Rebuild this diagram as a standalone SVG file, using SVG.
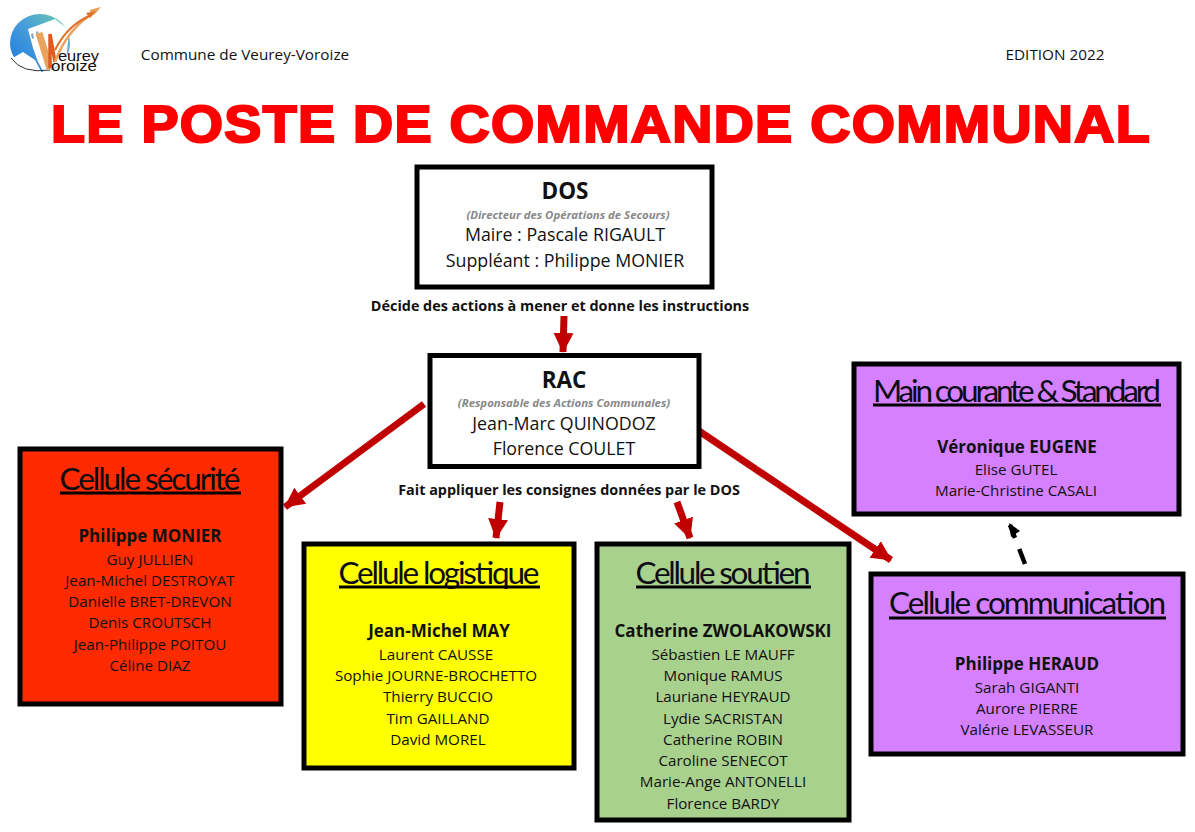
<svg xmlns="http://www.w3.org/2000/svg" width="1195" height="832" viewBox="0 0 1195 832">
<style>
text{font-family:"Open Sans","Noto Sans","DejaVu Sans",sans-serif;fill:#111;text-anchor:middle}
.box{stroke:#000;stroke-width:5}
.h{font-size:22.5px;font-weight:700}
.sub{font-size:11.4px;font-style:italic;font-weight:700;fill:#888}
.n{font-size:17.8px}
.cap{font-size:14.4px;font-weight:700}
.t{font-family:Lato,"Open Sans",sans-serif;font-size:31.5px;fill:#0c0c14}
.lead{font-size:17px;font-weight:700}
.m{font-size:15.2px}
.hd{font-size:15.3px}
.u{stroke:#000;stroke-width:3}
.red{fill:none;stroke:#c00000;stroke-width:7;marker-end:url(#ra)}
.lg{font-family:"Liberation Sans",sans-serif;font-size:15px;text-anchor:start}
</style>
<defs>
<marker id="ra" markerUnits="userSpaceOnUse" markerWidth="22" markerHeight="22" refX="19" refY="10" orient="auto"><path d="M0 0L20 10L0 20z" fill="#c00000"/></marker>
<linearGradient id="lg" x1="0" y1="1" x2="1" y2="0"><stop offset="0" stop-color="#1a78e0"/><stop offset=".55" stop-color="#4aa0d8"/><stop offset="1" stop-color="#70d0a8"/></linearGradient>
</defs>
<rect width="1195" height="832" fill="#fff"/>
<g id="logo">
<ellipse cx="40" cy="43" rx="30" ry="29" fill="url(#lg)"/>
<path d="M28 29L55 19L69 30L66 62L44 73L38 62L33 48z" fill="#fff"/>
<path d="M11 59L23 52L35 60L42 73L20 70z" fill="#fff"/>
<path d="M31 34l2-1 1 5-2 1zM36 32l2-1 1 5-2 1z" fill="#8aa8b8"/>
<path d="M11 58Q22 74 50 70" fill="none" stroke="#333" stroke-width="1"/>
<path d="M39 33L50 69" fill="none" stroke="#e8a35e" stroke-width="7"/>
<path d="M50 68L50 34L55 62" fill="none" stroke="#e25a20" stroke-width="3.500"/>
<path d="M55 62Q66 30 97 10" fill="none" stroke="#e8a35e" stroke-width="2.500"/>
<path d="M55 50Q68 24 92 15" fill="none" stroke="#e0702a" stroke-width="2"/>
<path d="M101 7L89 10L94 15z" fill="#e8a35e"/>
<path d="M96 11L86 13L90 18z" fill="#e0702a"/>
<text class="lg" x="58" y="61" textLength="41" lengthAdjust="spacingAndGlyphs">eurey</text>
<text class="lg" x="51" y="71" textLength="46" lengthAdjust="spacingAndGlyphs">oroize</text>
</g>
<g id="header">
<text class="hd" x="245" y="60">Commune de Veurey-Voroize</text>
<text class="hd" x="1055" y="60">EDITION 2022</text>
<text x="601" y="142" textLength="1100" lengthAdjust="spacingAndGlyphs" style="font-family:'Liberation Sans',sans-serif;font-size:51px;font-weight:700;letter-spacing:1.2px;fill:#f00;stroke:#f00;stroke-width:2.200">LE POSTE DE COMMANDE COMMUNAL</text>
</g>
<g id="connectors">
<path class="red" d="M564 316L563 352"/>
<path class="red" d="M424 404L285 507"/>
<path class="red" d="M500 502L496 538"/>
<path class="red" d="M677 502L690 538"/>
<path class="red" d="M699 431L891 560"/>
<path d="M1025 564L1010 525" fill="none" stroke="#000" stroke-width="4.500" stroke-dasharray="16 12"/>
<path d="M1009 523L1020 531L1011 537z" fill="#000"/>
<text class="cap" x="560" y="311">Décide des actions à mener et donne les instructions</text>
<text class="cap" x="569" y="495">Fait appliquer les consignes données par le DOS</text>
</g>
<g id="dos">
<rect class="box" x="417" y="167" width="295" height="120" fill="#fff"/>
<text class="h" x="565" y="199">DOS</text>
<text class="sub" x="568" y="219">(Directeur des Opérations de Secours)</text>
<text class="n" x="565" y="241">Maire : Pascale RIGAULT</text>
<text class="n" x="565" y="267">Suppléant : Philippe MONIER</text>
</g>
<g id="rac">
<rect class="box" x="430" y="355.500" width="269" height="111" fill="#fff"/>
<text class="h" x="564" y="388">RAC</text>
<text class="sub" x="564" y="407">(Responsable des Actions Communales)</text>
<text class="n" x="564" y="430">Jean-Marc QUINODOZ</text>
<text class="n" x="564" y="455">Florence COULET</text>
</g>
<g id="main-courante">
<rect class="box" x="854" y="364" width="325" height="150" fill="#d580ff"/>
<text class="t" x="1017" y="402" textLength="288">Main courante &amp; Standard</text>
<line class="u" x1="873" y1="405" x2="1161" y2="405"/>
<text class="lead" x="1017" y="453">Véronique EUGENE</text>
<text class="m" x="1016" y="475">Elise GUTEL</text>
<text class="m" x="1016" y="496">Marie-Christine CASALI</text>
</g>
<g id="securite">
<rect class="box" x="20" y="449" width="261" height="255" fill="#ff2a00"/>
<text class="t" x="150" y="490" textLength="181">Cellule sécurité</text>
<line class="u" x1="60" y1="493" x2="241" y2="493"/>
<text class="lead" x="150" y="542">Philippe MONIER</text>
<text class="m" x="150" y="565">Guy JULLIEN</text>
<text class="m" x="150" y="586">Jean-Michel DESTROYAT</text>
<text class="m" x="150" y="607">Danielle BRET-DREVON</text>
<text class="m" x="150" y="628">Denis CROUTSCH</text>
<text class="m" x="150" y="650">Jean-Philippe POITOU</text>
<text class="m" x="150" y="671">Céline DIAZ</text>
</g>
<g id="logistique">
<rect class="box" x="304" y="544" width="270" height="224" fill="#ffff00"/>
<text class="t" x="439" y="584" textLength="201">Cellule logistique</text>
<line class="u" x1="339" y1="587" x2="540" y2="587"/>
<text class="lead" x="439" y="637">Jean-Michel MAY</text>
<text class="m" x="436" y="660">Laurent CAUSSE</text>
<text class="m" x="436" y="681">Sophie JOURNE-BROCHETTO</text>
<text class="m" x="438" y="702">Thierry BUCCIO</text>
<text class="m" x="438" y="724">Tim GAILLAND</text>
<text class="m" x="438" y="745">David MOREL</text>
</g>
<g id="soutien">
<rect class="box" x="597" y="544" width="252" height="276" fill="#a9d18e"/>
<text class="t" x="723" y="584" textLength="175">Cellule soutien</text>
<line class="u" x1="636" y1="587" x2="811" y2="587"/>
<text class="lead" x="723" y="637">Catherine ZWOLAKOWSKI</text>
<text class="m" x="723" y="660">Sébastien LE MAUFF</text>
<text class="m" x="723" y="681">Monique RAMUS</text>
<text class="m" x="723" y="702">Lauriane HEYRAUD</text>
<text class="m" x="723" y="724">Lydie SACRISTAN</text>
<text class="m" x="723" y="745">Catherine ROBIN</text>
<text class="m" x="723" y="766">Caroline SENECOT</text>
<text class="m" x="723" y="787">Marie-Ange ANTONELLI</text>
<text class="m" x="723" y="809">Florence BARDY</text>
</g>
<g id="communication">
<rect class="box" x="871" y="574" width="312" height="180" fill="#d580ff"/>
<text class="t" x="1027.500" y="614" textLength="277">Cellule communication</text>
<line class="u" x1="889" y1="618" x2="1166" y2="618"/>
<text class="lead" x="1027" y="670">Philippe HERAUD</text>
<text class="m" x="1027" y="693">Sarah GIGANTI</text>
<text class="m" x="1027" y="714">Aurore PIERRE</text>
<text class="m" x="1027" y="735">Valérie LEVASSEUR</text>
</g>
</svg>
